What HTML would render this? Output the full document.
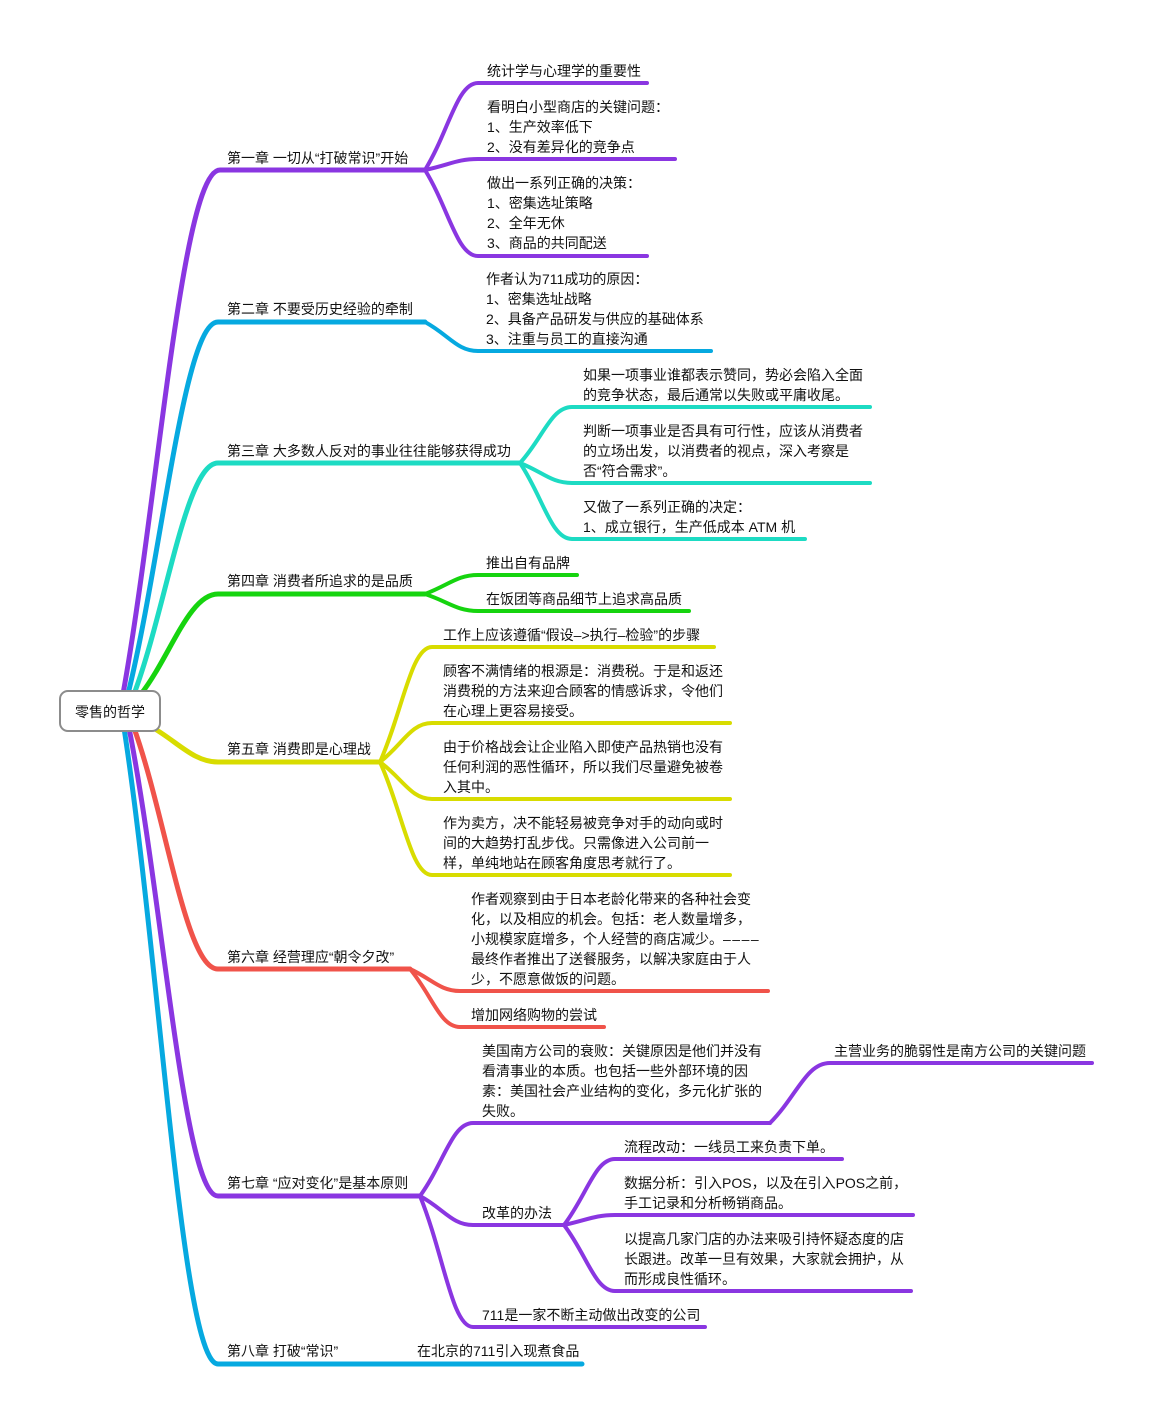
<!DOCTYPE html>
<html><head><meta charset="utf-8"><style>
html,body{margin:0;padding:0;background:#fff;}
svg{display:block;}
text{font-family:"Liberation Sans","Noto Sans CJK SC","WenQuanYi Zen Hei",sans-serif;font-size:14px;fill:#111;}
</style></head><body>
<svg width="1152" height="1422" viewBox="0 0 1152 1422" xmlns="http://www.w3.org/2000/svg">
<g fill="none" stroke-linecap="round" stroke-linejoin="round">
<g stroke="#8a36e1">
<path stroke-width="5" d="M123,694 C158,500 182,170 220,170 H425"/>
<path stroke-width="4" d="M425,170 C449,131 457,83 478,83 H647"/>
<path stroke-width="4" d="M425,170 C449,165 457,159 478,159 H675"/>
<path stroke-width="4" d="M425,170 C449,209 457,256 478,256 H647"/>
</g>
<g stroke="#06a9e0">
<path stroke-width="5" d="M128,694 C162,556 184,322 218,322 H425"/>
<path stroke-width="4" d="M425,322 C449,335 457,351 478,351 H711"/>
</g>
<g stroke="#1ddbc3">
<path stroke-width="5" d="M134,694 C166,609 186,463 218,463 H520"/>
<path stroke-width="4" d="M520,463 C543,438 551,407 572,407 H870"/>
<path stroke-width="4" d="M520,463 C543,472 551,483 572,483 H870"/>
<path stroke-width="4" d="M520,463 C543,497 551,539 572,539 H805"/>
</g>
<g stroke="#16d40f">
<path stroke-width="5" d="M141,694 C170,657 189,594 218,594 H425"/>
<path stroke-width="4" d="M425,594 C449,585 457,575 478,575 H577"/>
<path stroke-width="4" d="M425,594 C449,602 457,611 478,611 H689"/>
</g>
<g stroke="#d8dc00">
<path stroke-width="5" d="M150,726 C177,741 193,762 218,762 H380"/>
<path stroke-width="4" d="M380,762 C403,710 411,647 432,647 H714"/>
<path stroke-width="4" d="M380,762 C403,744 411,723 432,723 H730"/>
<path stroke-width="4" d="M380,762 C403,779 411,799 432,799 H730"/>
<path stroke-width="4" d="M380,762 C403,813 411,875 432,875 H730"/>
</g>
<g stroke="#f0534a">
<path stroke-width="5" d="M134,728 C166,817 186,969 218,969 H410"/>
<path stroke-width="4" d="M410,969 C432,979 440,991 460,991 H768"/>
<path stroke-width="4" d="M410,969 C432,995 440,1027 460,1027 H604"/>
</g>
<g stroke="#06a9e0">
<path stroke-width="5" d="M124,728 C160,963 182,1364 218,1364 H582"/>
</g>
<g stroke="#8a36e1">
<path stroke-width="5" d="M129,728 C163,901 184,1196 218,1196 H420"/>
<path stroke-width="4" d="M420,1196 C444,1163 452,1123 473,1123 H770"/>
<path stroke-width="4" d="M770,1123 C797,1096 806,1063 830,1063 H1092"/>
<path stroke-width="4" d="M420,1196 C444,1209 452,1225 473,1225 H564"/>
<path stroke-width="4" d="M420,1196 C444,1255 452,1327 473,1327 H705"/>
<path stroke-width="4" d="M564,1225 C587,1195 595,1159 615,1159 H842"/>
<path stroke-width="4" d="M564,1225 C587,1220 595,1215 615,1215 H913"/>
<path stroke-width="4" d="M564,1225 C587,1255 595,1291 615,1291 H911"/>
</g>
</g>

<rect x="60" y="691" width="100" height="40" rx="8" ry="8" fill="#fff" stroke="#8c8c8c" stroke-width="2"/>
<g transform="translate(0,1)">
<text x="110" y="716" text-anchor="middle">零售的哲学</text>

<text x="227" y="162">第一章 一切从“打破常识”开始</text>
<text x="487" y="75">统计学与心理学的重要性</text>
<text x="487" y="111">看明白小型商店的关键问题：</text>
<text x="487" y="131">1、生产效率低下</text>
<text x="487" y="151">2、没有差异化的竞争点</text>
<text x="487" y="187">做出一系列正确的决策：</text>
<text x="487" y="207">1、密集选址策略</text>
<text x="487" y="227">2、全年无休</text>
<text x="487" y="247">3、商品的共同配送</text>

<text x="227" y="313">第二章 不要受历史经验的牵制</text>
<text x="486" y="283">作者认为711成功的原因：</text>
<text x="486" y="303">1、密集选址战略</text>
<text x="486" y="323">2、具备产品研发与供应的基础体系</text>
<text x="486" y="343">3、注重与员工的直接沟通</text>

<text x="227" y="455">第三章 大多数人反对的事业往往能够获得成功</text>
<text x="583" y="379">如果一项事业谁都表示赞同，势必会陷入全面</text>
<text x="583" y="399">的竞争状态，最后通常以失败或平庸收尾。</text>
<text x="583" y="435">判断一项事业是否具有可行性，应该从消费者</text>
<text x="583" y="455">的立场出发，以消费者的视点，深入考察是</text>
<text x="583" y="475">否“符合需求”。</text>
<text x="583" y="511">又做了一系列正确的决定：</text>
<text x="583" y="531">1、成立银行，生产低成本 ATM 机</text>

<text x="227" y="585">第四章 消费者所追求的是品质</text>
<text x="486" y="567">推出自有品牌</text>
<text x="486" y="603">在饭团等商品细节上追求高品质</text>

<text x="227" y="753">第五章 消费即是心理战</text>
<text x="443" y="639">工作上应该遵循“假设–&gt;执行–检验”的步骤</text>
<text x="443" y="675">顾客不满情绪的根源是：消费税。于是和返还</text>
<text x="443" y="695">消费税的方法来迎合顾客的情感诉求，令他们</text>
<text x="443" y="715">在心理上更容易接受。</text>
<text x="443" y="751">由于价格战会让企业陷入即使产品热销也没有</text>
<text x="443" y="771">任何利润的恶性循环，所以我们尽量避免被卷</text>
<text x="443" y="791">入其中。</text>
<text x="443" y="827">作为卖方，决不能轻易被竞争对手的动向或时</text>
<text x="443" y="847">间的大趋势打乱步伐。只需像进入公司前一</text>
<text x="443" y="867">样，单纯地站在顾客角度思考就行了。</text>

<text x="227" y="961">第六章 经营理应“朝令夕改”</text>
<text x="471" y="903">作者观察到由于日本老龄化带来的各种社会变</text>
<text x="471" y="923">化，以及相应的机会。包括：老人数量增多，</text>
<text x="471" y="943">小规模家庭增多，个人经营的商店减少。<tspan letter-spacing="1.5">––––</tspan></text>
<text x="471" y="963">最终作者推出了送餐服务，以解决家庭由于人</text>
<text x="471" y="983">少，不愿意做饭的问题。</text>
<text x="471" y="1019">增加网络购物的尝试</text>

<text x="227" y="1187">第七章 “应对变化”是基本原则</text>
<text x="482" y="1055">美国南方公司的衰败：关键原因是他们并没有</text>
<text x="482" y="1075">看清事业的本质。也包括一些外部环境的因</text>
<text x="482" y="1095">素：美国社会产业结构的变化，多元化扩张的</text>
<text x="482" y="1115">失败。</text>
<text x="834" y="1055">主营业务的脆弱性是南方公司的关键问题</text>
<text x="482" y="1217">改革的办法</text>
<text x="624" y="1151">流程改动：一线员工来负责下单。</text>
<text x="624" y="1187">数据分析：引入POS，以及在引入POS之前，</text>
<text x="624" y="1207">手工记录和分析畅销商品。</text>
<text x="624" y="1243">以提高几家门店的办法来吸引持怀疑态度的店</text>
<text x="624" y="1263">长跟进。改革一旦有效果，大家就会拥护，从</text>
<text x="624" y="1283">而形成良性循环。</text>
<text x="482" y="1319">711是一家不断主动做出改变的公司</text>

<text x="227" y="1355">第八章 打破“常识”</text>
<text x="417" y="1355">在北京的711引入现煮食品</text>
</g>
</svg>
</body></html>
